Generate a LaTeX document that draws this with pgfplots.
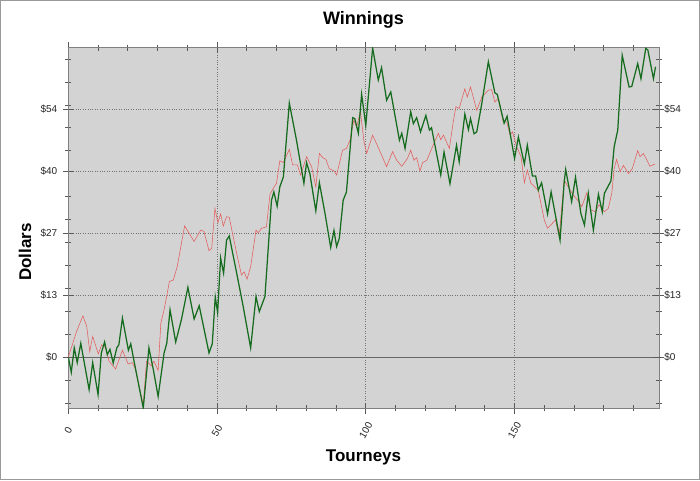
\documentclass[border=0pt]{standalone}
\usepackage{fontspec}
\setmainfont{Liberation Sans}
\usepackage{pgfplots}
\pgfplotsset{compat=1.18}
\definecolor{plotbg}{RGB}{211,211,211}
\definecolor{grn}{RGB}{22,108,30}
\definecolor{rd}{RGB}{228,92,92}
\begin{document}
\begin{tikzpicture}[x=1pt,y=1pt]
\useasboundingbox (0,0) rectangle (700,480);
\fill[white] (0,0) rectangle (700,480);
\draw[black!40, line width=1.2pt] (0.6,0.6) rectangle (699.4,479.4);
\node[font=\bfseries\fontsize{18}{20}\selectfont] at (363.5,460) {Winnings};
\node[font=\bfseries\fontsize{17}{20}\selectfont] at (363.5,23) {Tourneys};
\node[font=\bfseries\fontsize{17}{20}\selectfont, rotate=90] at (25,228) {Dollars};
\begin{axis}[
  at={(68.3pt,72pt)}, anchor=south west,
  scale only axis, width=590.5pt, height=360.5pt,
  xmin=0, xmax=198.5, ymin=-11.1, ymax=67.5,
  axis background/.style={fill=plotbg},
  axis line style={black!50},
  tick align=center, xtick pos=both, ytick pos=both,
  major tick length=11pt, minor tick length=6pt,
  tick style={black!65, line width=0.6pt},
  xtick={0,50,100,150}, xticklabels={0,50,100,150},
  minor xtick={10,20,30,40,60,70,80,90,110,120,130,140,160,170,180,190},
  ytick={0,13.5,27,40.5,54}, yticklabels={\$0,\$13,\$27,\$40,\$54},
  minor ytick={-10,-5,5,10,15,20,25,30,35,45,50,55,60,65},
  grid=major, grid style={dotted, black!55, line width=0.6pt},
  extra y ticks={0}, extra y tick labels={},
  extra y tick style={grid style={solid, black!60, line width=0.7pt}},
  ticklabel style={font=\fontsize{10}{12}\selectfont, text=black!85},
  xticklabel style={yshift=-17pt, rotate=60, anchor=center},
  yticklabel style={xshift=-2pt},
]
\addplot[rd, line width=0.55pt] coordinates {
(0,0) (2.8,5.6) (4.9,9.0) (6.2,6.7) (7.2,1.2) (8.2,4.5) (10.1,0.7) (11.2,2.7)
(12.6,2.0) (13.7,-0.9) (15.9,-2.6) (18.2,1.5) (20.1,-1.5) (21.5,-1.2) (22.5,-2.5)
(25.2,-10.5) (26.3,-0.9) (27.9,-1.9) (28.8,-0.9) (30.2,-2.9) (31.1,7.4) (32.2,10.3)
(34,16.5) (35.3,16.8) (36.6,19.7) (39.1,28.6) (42.3,25.2) (44.5,27.7) (45.6,27.4)
(47.3,23.2) (48.2,23.7) (49.3,32.4) (50.3,29.3) (51.2,31.2) (52.1,28.6) (53.2,30.6)
(54.1,30.5) (55.2,27.0) (56.6,22.6) (58.2,17.9) (59.1,18.6) (60.1,17.0) (61.3,19.7)
(63.1,27.7) (63.8,27.1) (65,28.1) (66.6,28.4) (67.8,35.5) (69.1,37.0) (70,37.9)
(71.1,42.8) (72.3,42.4) (74.3,45.3) (75.4,41.9) (77,41.9) (78.1,39.7) (80.1,43.7)
(81.8,41.5) (83.2,37.1) (84.4,44.4) (85.5,43.5) (86.6,43.1) (87.7,41.1) (89.3,40.6)
(90.2,39.7) (92.2,45.1) (93.5,45.5) (94.7,47.3) (96,51.7) (96.9,50.1) (98.2,53.5)
(99.4,47.0) (100.3,44.4) (102.3,48.4) (104.8,44.8) (107,41.5) (109,44.8) (110.4,42.9)
(112.1,41.6) (114,43.3) (115.1,45.1) (116.2,42.9) (117.1,43.5) (118.2,40.6) (119.1,42.4)
(120.5,42.9) (122.5,46.0) (124.4,48.8) (125.2,47.4) (126.1,48.4) (128.1,45.5) (129.4,51.3)
(130.3,54.6) (131.4,54.2) (133.3,58.5) (134.1,56.7) (135.2,58.9) (137.3,53.8) (139,56.7)
(141.2,58.2) (142.3,58.3) (143.4,55.6) (144.5,56.4) (146.2,51.3) (147.4,51.3) (148.5,48.4)
(149.3,49.1) (150.7,45.9) (152.2,43.7) (153.3,38.0) (154.3,40.8) (155.5,37.9) (158,36.3)
(160,29.9) (161.1,28.1) (163.8,29.9) (165,26.3) (166.7,38.6) (168.3,36.8) (169.8,35.3)
(171.2,34.2) (172.6,32.8) (174.3,35.8) (175.7,32.1) (177.1,31.7) (178.4,33.2) (180.2,31.7)
(181.5,32.4) (182.7,35.7) (183.5,41.1) (184.3,43.1) (185.5,40.4) (186.6,41.8) (188.3,40.0)
(189.6,41.1) (191.4,45.0) (192.2,43.7) (193.3,44.4) (194.4,43.1) (195.5,41.6) (197.2,42.1)
};
\addplot[grn, line width=1.25pt] coordinates {
(0,0) (1,-3.3) (2,2.0) (3,-1.2) (4.2,3.0) (7,-7.1) (8.2,-1.2) (10,-8.2) (11.1,0.9)
(12.2,3.3) (13.1,0.5) (14,1.7) (15.1,-1.3) (16.3,2.0) (17,2.7) (18.2,8.5) (20.2,1.5)
(21,2.9) (22.1,-0.9) (25.2,-11.1) (27.1,2.0) (28.6,-2.8) (30.2,-8.6) (32.2,0.9)
(33.1,3.0) (34.2,10.3) (36.1,3.3) (38,8.1) (40.2,15.2) (42.3,8.3) (44,11.2) (47.3,0.9)
(48.4,2.9) (49.4,13.1) (50.2,9.7) (51.2,21.6) (52.2,18.3) (53.2,25.5) (54.1,26.4)
(56.6,18.3) (58.8,11) (61.3,2.0) (63.1,13.2) (64.2,9.9) (66.1,13.2) (68.3,34.2)
(69.1,36.0) (70.2,32.9) (71.1,37.1) (72.3,39.3) (74.3,55.4) (76.7,47.3) (79.2,37.9)
(80.1,42.4) (81.2,40.0) (83.2,31.9) (84.4,38.0) (86.3,31.3) (88.2,23.9) (89.3,27.6)
(90.2,24.1) (91.1,25.9) (92.4,34.2) (93.5,36.0) (95.6,52.2) (96.3,52.0) (97.5,48.8)
(98.6,57.3) (100,50.5) (102.3,67.4) (104.2,60.4) (105.3,63.1) (107,56.0) (108.4,57.8)
(111.3,47.3) (112.1,48.8) (113.2,45.5) (115.1,53.5) (116,50.9) (117.1,52.2) (118.4,49.1)
(120.2,52.7) (121.4,49.5) (122.1,50.0) (125.2,39.7) (126.3,44.7) (128.3,37.8) (130.5,46.2)
(131.4,42.6) (133.3,53.0) (134.5,49.6) (135.2,52.0) (136.4,48.7) (137.3,49.1) (139,55.3)
(141.2,64.4) (143.4,57.6) (144.2,57.3) (146.5,51.0) (147.5,52.5) (150,43.3) (151.3,48.0)
(153.3,42.1) (154.3,46.2) (156,39.5) (157.1,39.5) (158,36.4) (159.1,38.0) (161.1,31.2)
(162.3,36.0) (165.3,25.5) (166.7,38.2) (167.2,40.9) (169.2,33.9) (170.5,39.2) (172.3,31.3)
(173.5,28.8) (174.8,35.7) (176.5,27.7) (178.2,35.5) (179.5,31.7) (180.2,35.7) (182.4,38.4)
(183.5,45.9) (184.7,49.5) (186.2,65.8) (188.5,58.9) (189.4,59.0) (191.4,64.0) (192.5,60.7)
(194.1,67.3) (194.8,67.0) (196.7,60.7) (197.4,63.3)
};
\end{axis}
\begin{axis}[
  at={(68.3pt,72pt)}, anchor=south west,
  scale only axis, width=590.5pt, height=360.5pt,
  xmin=0, xmax=198.5, ymin=-11.1, ymax=67.5,
  axis line style={draw=none}, tick style={draw=none},
  xtick=\empty,
  ytick={0,13.5,27,40.5,54}, yticklabels={\$0,\$13,\$27,\$40,\$54},
  yticklabel pos=right,
  ticklabel style={font=\fontsize{10}{12}\selectfont, text=black!85},
  yticklabel style={xshift=2pt},
]
\end{axis}
\end{tikzpicture}
\end{document}
